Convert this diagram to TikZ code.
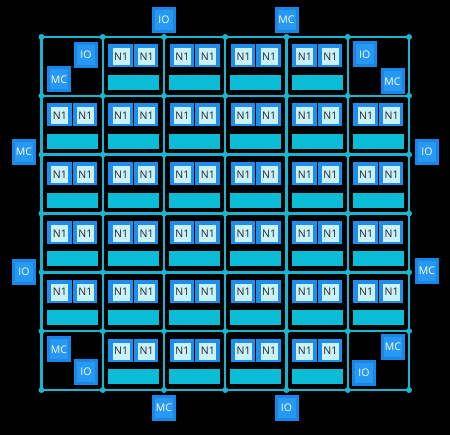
\documentclass[tikz,border=0pt]{standalone}
\usepackage{fontspec}
\setmainfont{Open Sans}
\definecolor{gridcyan}{HTML}{19B4CE}
\definecolor{barcyan}{HTML}{0BBCD6}
\definecolor{coreblue}{HTML}{1E8EEC}
\definecolor{corelight}{HTML}{C9F1F8}
\definecolor{portblue}{HTML}{1A86E6}
\definecolor{portlight}{HTML}{2599F4}
\tikzset{
  core/.style={fill=coreblue, minimum width=24.6pt, minimum height=23pt, inner sep=0pt},
  corelbl/.style={fill=corelight, minimum width=17pt, minimum height=17pt, inner sep=0pt, text=black!85, font=\fontsize{10.5}{10.5}\selectfont},
  membar/.style={fill=barcyan, minimum width=51pt, minimum height=15pt, inner sep=0pt},
  port/.style={draw=portblue, line width=3pt, fill=portlight, minimum width=21pt, minimum height=23pt, inner sep=0pt, text=white, font=\fontsize{10.5}{10.5}\selectfont},
  gridline/.style={draw=gridcyan, line width=2.4pt}
}
\begin{document}
\begin{tikzpicture}[x=1pt, y=-1pt]
    \fill[black] (0,0) rectangle (450,435);
    \useasboundingbox (0,0) rectangle (450,435);
    % grid of links
    \foreach \k in {0,...,6} {
        \draw[gridline] (41.5+61.25*\k,37) -- (41.5+61.25*\k,390);
        \draw[gridline] (41.5,37+58.83*\k) -- (409,37+58.83*\k);
    }
    \foreach \i in {0,...,6}
        \foreach \j in {0,...,6}
            \fill[gridcyan] (41.5+61.25*\i,37+58.83*\j) circle (3);
    % tiles
    \foreach \i in {0,...,5}
        \foreach \j in {0,...,5} {
            \pgfmathtruncatemacro\corner{((\i==0)||(\i==5))&&((\j==0)||(\j==5))}
            \ifnum\corner=0
                \coordinate (t\i\j) at (41.5+61.25*\i+30.6,37+58.83*\j+30.4);
                \node[core] (t\i\j-l) at ([shift={(-12.75,-11.5)}]t\i\j) {};
                \node[core] (t\i\j-r) at ([shift={(12.75,-11.5)}]t\i\j) {};
                \node[corelbl] (t\i\j-ln) at ([shift={(0.5,1)}]t\i\j-l) {N1};
                \node[corelbl] (t\i\j-rn) at ([shift={(0.5,1)}]t\i\j-r) {N1};
                \node[membar] (t\i\j-bar) at ([shift={(0,15)}]t\i\j) {};
            \fi
        }
    % ports outside
    \node[port] (io-top) at (164,20) {IO};
    \node[port] (mc-top) at (286.5,20) {MC};
    \node[port] (mc-left) at (24,152) {MC};
    \node[port] (io-left) at (24,272) {IO};
    \node[port] (io-right) at (427,152) {IO};
    \node[port] (mc-right) at (427,271) {MC};
    \node[port] (mc-bot) at (164,408) {MC};
    \node[port] (io-bot) at (286.5,408) {IO};
    % ports in corners
    \node[port] (io-tl) at (86,55) {IO};
    \node[port] (mc-tl) at (59,79.5) {MC};
    \node[port] (io-tr) at (364.7,54.5) {IO};
    \node[port] (mc-tr) at (392.5,81.5) {MC};
    \node[port] (mc-bl) at (59,349.3) {MC};
    \node[port] (io-bl) at (86,372) {IO};
    \node[port] (mc-br) at (393,347) {MC};
    \node[port] (io-br) at (364,372.7) {IO};
\end{tikzpicture}
\end{document}
